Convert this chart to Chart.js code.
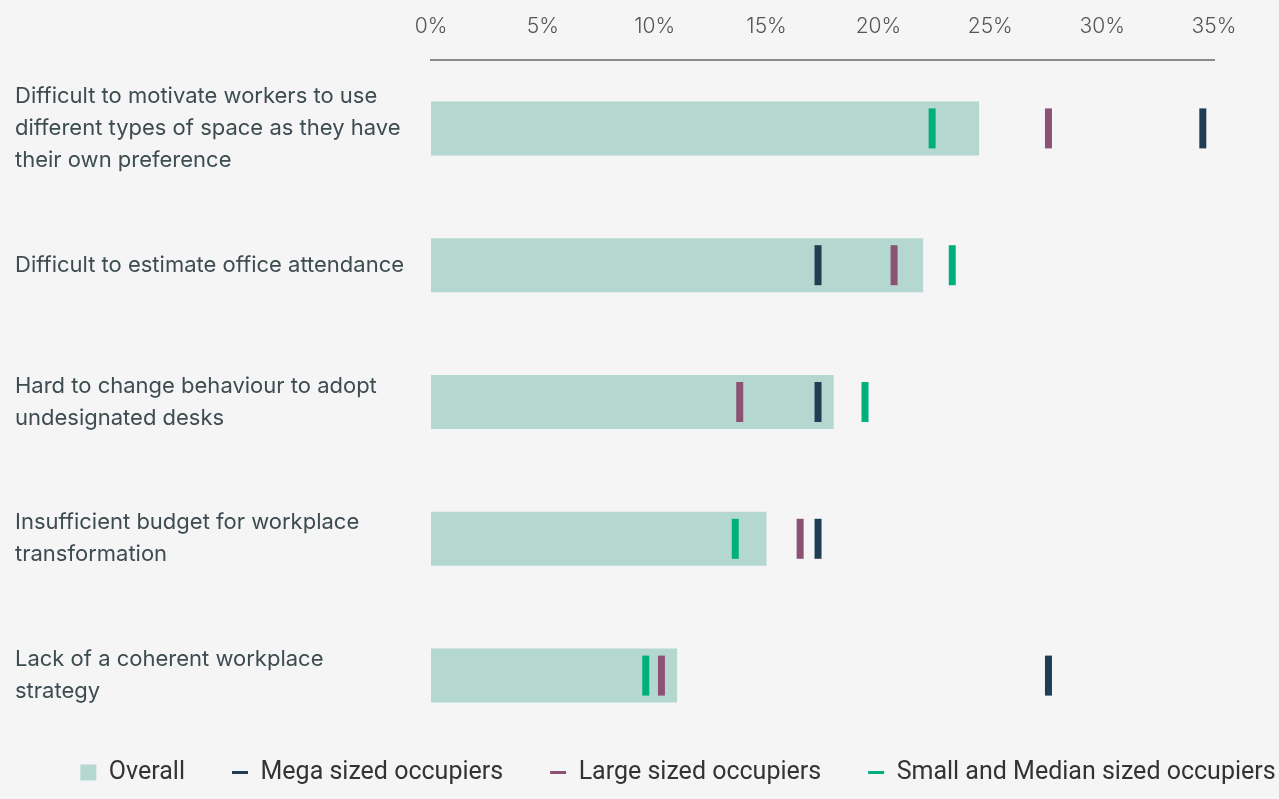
<!DOCTYPE html>
<html>
<head>
<meta charset="utf-8">
<script src="https://cdn.jsdelivr.net/npm/chart.js@4"></script>
<style>
  html, body { margin: 0; padding: 0; background: #f5f5f5; }
  #wrap { width: 1279px; height: 799px; }
</style>
</head>
<body>
<div id="wrap"><canvas id="myChart"></canvas></div>
<script>
const categories = [
    ["Difficult to motivate workers to use", "different types of space as they have", "their own preference"],
    ["Difficult to estimate office attendance"],
    ["Hard to change behaviour to adopt", "undesignated desks"],
    ["Insufficient budget for workplace", "transformation"],
    ["Lack of a coherent workplace", "strategy"],
];
const overall = [24.5, 22.0, 18.0, 15.0, 11.0];
const mega = [34.5, 17.3, 17.3, 17.3, 27.6];
const large = [27.6, 20.7, 13.8, 16.5, 10.3];
const smallMedian = [22.4, 23.3, 19.4, 13.6, 9.6];
const tickValues = [0, 5, 10, 15, 20, 25, 30, 35];

const textColor = "#3d4c50";

function marker(label, values, color) {
    return {
        type: "line",
        label: label,
        data: values,
        indexAxis: "y",
        showLine: false,
        order: 0,
        pointStyle: "line",
        rotation: 90,
        pointRadius: 20,
        pointHoverRadius: 20,
        pointBorderWidth: 7,
        pointBorderColor: color,
        borderColor: color,
        backgroundColor: color,
    };
}

// legend: short box so the plot reaches low, then drawn in a wider/taller area
const legendPlacement = {
    id: "legendPlacement",
    beforeLayout(chart) {
        const lg = chart.legend;
        if (!lg || lg._placed) return;
        const fit = lg.fit;
        const draw = lg.draw;
        lg.fit = function () {
            this.maxWidth = 1400;
            fit.call(this);
            this.height = 55;
        };
        lg.draw = function () {
            const saved = [this.left, this.right, this.top, this.bottom];
            this.right = this.right + 127;
            this.top = 713;
            this.bottom = chart.height;
            draw.call(this);
            [this.left, this.right, this.top, this.bottom] = saved;
        };
        lg._placed = true;
    },
};

const ctx = document.getElementById("myChart");

new Chart(ctx, {
    type: "bar",
    data: {
        labels: categories,
        datasets: [
            {
                label: "Overall",
                data: overall,
                order: 1,
                backgroundColor: "#b4d8cf",
                borderWidth: 0,
                categoryPercentage: 1,
                barPercentage: 0.395,
            },
            marker("Mega sized occupiers", mega, "#1f3d53"),
            marker("Large sized occupiers", large, "#8b5274"),
            marker("Small and Median sized occupiers", smallMedian, "#00b07c"),
        ],
    },
    plugins: [legendPlacement],
    options: {
        indexAxis: "y",
        responsive: true,
        maintainAspectRatio: false,
        animation: false,
        layout: {
            padding: { left: 15, right: 65, top: 0, bottom: 0 },
        },
        scales: {
            x: {
                position: "top",
                min: 0,
                max: 35,
                afterBuildTicks: (scale) => {
                    scale.ticks = tickValues.map((v) => ({ value: v }));
                },
                afterFit: (scale) => {
                    scale.height = 60;
                },
                grid: { display: false, drawTicks: false },
                border: { display: true, color: "#8a8a8a", width: 2 },
                ticks: {
                    padding: 21,
                    color: "#555",
                    font: { family: "Inter", size: 21, weight: 300 },
                    callback: (v) => v + "%",
                },
            },
            y: {
                afterFit: (scale) => {
                    scale.width = 416;
                },
                grid: { display: false, drawTicks: false },
                border: { display: false },
                ticks: {
                    crossAlign: "far",
                    color: textColor,
                    font: { family: "Inter", size: 22, lineHeight: 1.45 },
                },
            },
        },
        plugins: {
            tooltip: { enabled: false },
            legend: {
                position: "bottom",
                labels: {
                    usePointStyle: true,
                    pointStyleWidth: 16,
                    boxHeight: 16,
                    padding: 47,
                    color: "#333",
                    font: { family: "Roboto", size: 25 },
                    generateLabels: (chart) =>
                        chart.data.datasets.map((ds, i) => ({
                            text: ds.label,
                            datasetIndex: i,
                            fontColor: "#333",
                            pointStyle: i === 0 ? "rect" : "line",
                            rotation: 0,
                            fillStyle: ds.backgroundColor,
                            strokeStyle: i === 0 ? ds.backgroundColor : ds.borderColor,
                            lineWidth: i === 0 ? 0 : 3,
                        })),
                },
            },
        },
    },
});
</script>
</body>
</html>
